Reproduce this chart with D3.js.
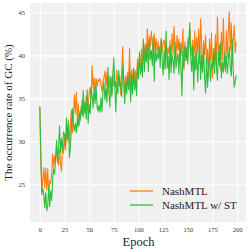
<!DOCTYPE html>
<html>
<head>
<meta charset="utf-8">
<script src="https://cdn.jsdelivr.net/npm/d3@7"></script>
<style>
  body { margin: 0; background: #fff; }
  svg text { font-family: "Liberation Serif", "DejaVu Serif", serif; }
</style>
</head>
<body>
<div id="chart"></div>
<script>
// series values, one per epoch (0..199)
var nashMTL = [
	34.1, 27.3, 24.2, 25.5, 26.9, 24.6, 26.9, 24.3, 26.8, 23.8,
	25.4, 25.1, 26.2, 28.5, 27.0, 28.3, 27.6, 29.4, 28.0, 27.2,
	29.1, 27.4, 26.5, 29.8, 28.6, 30.4, 29.0, 31.2, 30.1, 32.4,
	29.8, 31.9, 33.6, 31.0, 32.8, 35.4, 33.2, 35.7, 32.6, 34.4,
	31.9, 33.6, 33.3, 34.9, 32.8, 34.6, 33.5, 35.3, 34.7, 34.1,
	35.6, 36.3, 35.0, 38.8, 36.2, 37.4, 35.8, 37.3, 36.4, 37.2,
	37.0, 37.3, 36.6, 35.8, 36.9, 37.4, 38.2, 36.3, 38.0, 35.5,
	37.6, 36.2, 37.5, 35.6, 37.8, 36.4, 37.0, 36.2, 38.3, 37.0,
	36.6, 37.5, 35.4, 38.2, 41.0, 37.1, 35.7, 37.6, 36.4, 38.0,
	37.2, 40.8, 35.2, 38.3, 37.1, 38.4, 37.3, 38.2, 37.0, 39.6,
	38.1, 39.9, 38.5, 40.7, 38.2, 41.8, 39.6, 41.3, 40.2, 43.1,
	40.6, 42.2, 41.1, 42.8, 41.4, 39.9, 42.5, 40.8, 41.9, 40.3,
	41.6, 39.9, 41.0, 41.8, 40.4, 41.6, 41.8, 40.2, 41.5, 39.8,
	40.9, 40.1, 41.7, 39.5, 42.5, 40.1, 43.4, 41.0, 39.7, 42.3,
	40.6, 41.9, 39.2, 41.5, 40.0, 43.1, 38.3, 41.6, 40.4, 39.4,
	42.0, 40.8, 43.0, 41.2, 40.0, 41.8, 38.7, 42.8, 39.6, 42.1,
	40.3, 43.1, 39.1, 44.3, 41.0, 38.2, 41.7, 40.1, 42.3, 38.8,
	40.7, 37.5, 41.9, 39.4, 42.6, 37.4, 40.8, 39.2, 42.4, 38.6,
	44.5, 40.3, 41.2, 38.3, 42.7, 39.5, 44.3, 40.2, 38.1, 42.9,
	39.8, 42.6, 45.1, 40.6, 43.8, 38.9, 42.0, 43.5, 40.3, 41.6
];

var nashMTLST = [
	34.0, 28.8, 23.8, 24.5, 23.9, 22.3, 24.0, 21.9, 22.5, 24.7,
	22.4, 24.2, 23.1, 25.5, 26.8, 26.2, 28.0, 30.1, 27.5, 29.3,
	31.8, 28.7, 30.3, 29.0, 31.1, 30.8, 29.6, 32.7, 30.3, 32.1,
	28.1, 29.4, 31.5, 33.8, 32.0, 31.2, 32.1, 31.0, 32.6, 31.7,
	33.3, 32.4, 34.1, 33.0, 35.9, 33.2, 34.5, 32.6, 36.0, 32.1,
	34.3, 33.2, 36.1, 35.2, 33.9, 36.3, 34.4, 36.5, 34.0, 33.5,
	34.2, 33.4, 35.1, 33.4, 35.8, 36.9, 34.8, 36.2, 34.5, 38.6,
	35.8, 34.0, 37.5, 35.2, 37.7, 39.7, 36.4, 33.4, 36.9, 35.5,
	38.2, 36.4, 36.8, 35.2, 38.9, 37.3, 34.4, 36.9, 35.5, 37.6,
	36.0, 38.1, 34.6, 37.7, 35.5, 38.5, 36.0, 37.4, 35.3, 38.8,
	37.3, 40.4, 37.8, 39.1, 37.5, 41.9, 38.1, 40.9, 39.2, 41.4,
	38.1, 41.6, 39.5, 40.6, 38.8, 42.1, 37.0, 41.4, 39.3, 40.2,
	39.6, 41.0, 38.6, 42.0, 39.4, 37.7, 40.6, 38.4, 42.8, 38.5,
	39.9, 37.2, 41.2, 38.0, 40.1, 39.4, 37.9, 41.6, 38.5, 39.6,
	40.2, 37.8, 41.4, 38.7, 35.3, 40.5, 38.6, 41.0, 39.4, 40.9,
	39.0, 41.7, 43.8, 39.5, 38.1, 41.1, 36.0, 39.9, 38.3, 40.4,
	36.9, 39.6, 41.3, 37.2, 40.0, 38.0, 40.8, 37.4, 35.6, 39.7,
	36.3, 38.6, 40.0, 37.0, 39.1, 38.5, 40.3, 37.9, 41.2, 38.7,
	37.1, 40.5, 38.8, 41.5, 37.4, 39.2, 38.0, 40.3, 38.4, 39.9,
	37.9, 39.4, 41.0, 38.6, 37.6, 41.9, 38.2, 36.3, 37.0, 37.7
];

var seriesNames = ["NashMTL", "NashMTL w/ ST"];
var seriesColors = ["#ff7f0e", "#2dbe3a"];
var xTicks = [0, 25, 50, 75, 100, 125, 150, 175, 200];
var yTicks = [25, 30, 35, 40, 45];

var svg = d3.select("#chart").append("svg")
			.attr("width", 249)
			.attr("height", 249);

var plotLeft = 30, plotRight = 246, plotTop = 3, plotBottom = 222;

var x = d3.scaleLinear().domain([-9.95, 208.95]).range([plotLeft, plotRight]);
var y = d3.scaleLinear().domain([20.6, 46.1]).range([plotBottom, plotTop]);

// plot background
svg.append("rect")
	.attr("x", plotLeft)
	.attr("y", plotTop)
	.attr("width", plotRight - plotLeft)
	.attr("height", plotBottom - plotTop)
	.attr("fill", "#f0f0f0");

// y grid + labels
var yAxis = svg.append("g")
			.attr("transform", "translate(" + plotLeft + ",0)")
			.call(d3.axisLeft(y).tickValues(yTicks).tickSize(-(plotRight - plotLeft)).tickPadding(5));
yAxis.select(".domain").remove();
yAxis.selectAll("line").attr("stroke", "#ffffff").attr("stroke-width", 1.1);
yAxis.selectAll("text").attr("font-size", "6.5px").attr("fill", "#333")
	.style("font-family", "'Liberation Serif', serif");

// x grid + labels
var xAxis = svg.append("g")
			.attr("transform", "translate(0," + plotBottom + ")")
			.call(d3.axisBottom(x).tickValues(xTicks).tickSize(-(plotBottom - plotTop)).tickPadding(5));
xAxis.select(".domain").remove();
xAxis.selectAll("line").attr("stroke", "#ffffff").attr("stroke-width", 1.1);
xAxis.selectAll("text").attr("font-size", "6.5px").attr("fill", "#333")
	.style("font-family", "'Liberation Serif', serif");

// lines
var line = d3.line()
	.x(function(d, i){ return x(i); })
	.y(function(d){ return y(d); });

[nashMTL, nashMTLST].forEach(function(s, k){
	svg.append("path")
		.datum(s)
		.attr("d", line)
		.attr("fill", "none")
		.attr("stroke", seriesColors[k])
		.attr("stroke-width", 1.1)
		.attr("stroke-linejoin", "round");
});

// axis titles
svg.append("text")
	.attr("x", x(100))
	.attr("y", 246)
	.attr("text-anchor", "middle")
	.attr("font-size", "12.5px")
	.attr("fill", "#222")
	.text("Epoch");

svg.append("text")
	.attr("transform", "translate(12," + ((plotTop + plotBottom) / 2) + ") rotate(-90)")
	.attr("text-anchor", "middle")
	.attr("font-size", "11px")
	.attr("fill", "#222")
	.text("The occurrence rate of GC (%)");

// legend
var legend = svg.append("g");
seriesNames.forEach(function(name, k){
	var ly = 191 + k * 14;
	legend.append("line")
		.attr("x1", 130).attr("x2", 153)
		.attr("y1", ly).attr("y2", ly)
		.attr("stroke", seriesColors[k])
		.attr("stroke-width", 1.3);
	legend.append("text")
		.attr("x", 162)
		.attr("y", ly + 3.8)
		.attr("font-size", "11px")
		.attr("fill", "#222")
		.text(name);
});
</script>
</body>
</html>
